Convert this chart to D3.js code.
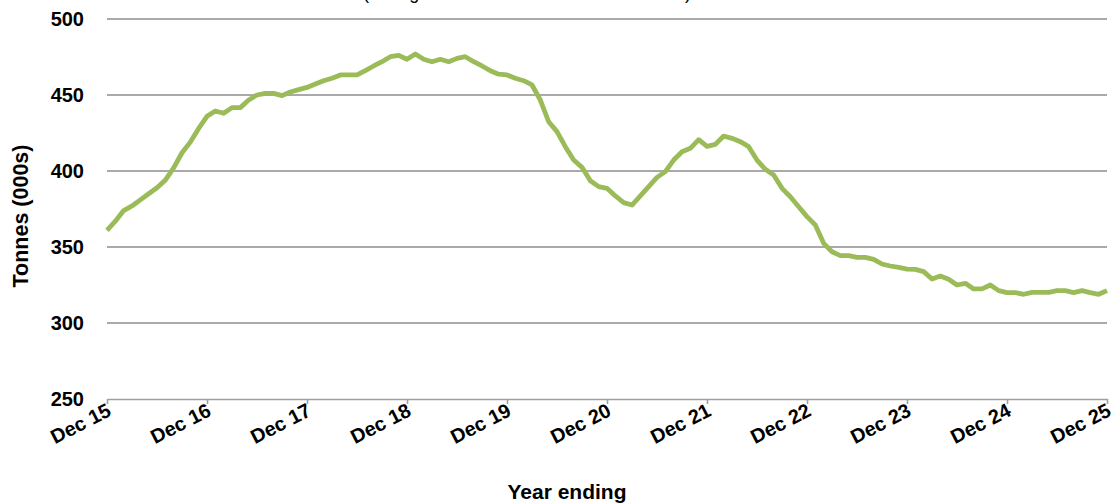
<!DOCTYPE html>
<html>
<head>
<meta charset="utf-8">
<script src="https://cdn.jsdelivr.net/npm/d3@7"></script>
<style>
  html, body { margin: 0; padding: 0; background: #fff; }
  svg { display: block; font-family: "Liberation Sans", Arial, sans-serif; }
</style>
</head>
<body>
<svg id="chart" width="1116" height="504"></svg>
<script>
// Monthly values, Dec 2015 .. Dec 2025 (121 points), thousand tonnes
const values = [
  361, 367, 374, 377, 381, 385, 389, 394, 402, 412, 419, 428,
  436, 439.5, 438, 441.7, 441.7, 446.7, 450, 451.1, 451.1, 449.6, 452, 453.5,
  455, 457.2, 459.4, 461, 463.2, 463.2, 463.2, 466, 469.1, 471.9, 475.2, 476.1,
  473.5, 477, 473.5, 471.9, 473.5, 471.9, 474.1, 475.2, 471.9, 469.1, 466, 463.7,
  463.2, 461, 459.4, 456.6, 446.7, 432.4, 425.9, 416, 407.2, 402.4, 393.6, 389.7,
  388.6, 383.6, 379.2, 377.6, 383.6, 389.7, 395.8, 399.6, 407.2, 412.7, 414.9, 420.6,
  416.2, 417.5, 423, 421.5, 419.3, 416, 407.2, 401.1, 397.4, 388.6, 383.1, 376.5,
  370, 364.5, 352.4, 346.9, 344.3, 344.3, 343.2, 343.2, 341.9, 338.8, 337.5, 336.6,
  335.4, 335.3, 333.8, 328.9, 330.9, 328.8, 325, 326.1, 322.4, 322.4, 325, 321.3,
  320, 320, 318.9, 320.2, 320.2, 320.2, 321.3, 321.3, 320, 321.3, 320, 318.9,
  321.3
];
const yTicks = [250, 300, 350, 400, 450, 500];
const xTickLabels = ["Dec 15","Dec 16","Dec 17","Dec 18","Dec 19","Dec 20","Dec 21","Dec 22","Dec 23","Dec 24","Dec 25"];
const yTitle = "Tonnes (000s)";
const xTitle = "Year ending";
const topTitle = "(rolling annual total in thousand tonnes)";

const svg = d3.select("#chart");
const mLeft = 107, mRight = 1107, mTop = 19, mBottom = 399;

const x = d3.scaleLinear().domain([0, values.length - 1]).range([mLeft, mRight]);
const y = d3.scaleLinear().domain([250, 500]).range([mBottom, mTop]);

// Partially visible title at top (cut off by frame in the original)
svg.append("text")
  .attr("x", 363).attr("y", -1)
  .attr("font-size", 18)
  .attr("textLength", 328).attr("lengthAdjust", "spacing")
  .attr("fill", "#000")
  .text(topTitle);

// Gridlines
svg.append("g").selectAll("line")
  .data(yTicks.filter(d => d > 250))
  .join("line")
  .attr("x1", mLeft).attr("x2", mRight)
  .attr("y1", d => y(d)).attr("y2", d => y(d))
  .attr("stroke", "#8c8c8c").attr("stroke-width", 1.6);

// Y axis labels
const yAxis = d3.axisLeft(y).tickValues(yTicks).tickSize(0).tickPadding(23);
const gy = svg.append("g").attr("transform", `translate(${mLeft},0)`).call(yAxis);
gy.select(".domain").remove();
gy.selectAll("text")
  .attr("font-family", "'Liberation Sans', Arial, sans-serif")
  .attr("font-size", 20).attr("font-weight", "bold").attr("fill", "#000");

// X axis
const xAxis = d3.axisBottom(x)
  .tickValues(d3.range(0, values.length, 12))
  .tickFormat((d, i) => xTickLabels[i])
  .tickSize(5).tickSizeOuter(0);
const gx = svg.append("g").attr("transform", `translate(0,${mBottom})`).call(xAxis);
gx.select(".domain").attr("stroke", "#a0a0a0").attr("stroke-width", 1.6);
gx.selectAll(".tick line").attr("stroke", "#a0a0a0").attr("stroke-width", 1.6);
gx.selectAll("text")
  .attr("font-family", "'Liberation Sans', Arial, sans-serif")
  .attr("font-size", 20).attr("font-weight", "bold").attr("fill", "#000")
  .attr("text-anchor", "end")
  .attr("dy", 0).attr("y", 0)
  .attr("transform", "translate(5,16) rotate(-27)");

// Line
const line = d3.line().x((d, i) => x(i)).y(d => y(d));
svg.append("path")
  .datum(values)
  .attr("d", line)
  .attr("fill", "none")
  .attr("stroke", "#9bbb59")
  .attr("stroke-width", 4.8)
  .attr("stroke-linejoin", "round");

// Axis titles
svg.append("text")
  .attr("x", 567).attr("y", 499)
  .attr("text-anchor", "middle")
  .attr("font-size", 21).attr("font-weight", "bold")
  .text(xTitle);

svg.append("text")
  .attr("transform", "translate(28,216) rotate(-90)")
  .attr("text-anchor", "middle")
  .attr("font-size", 21.5).attr("font-weight", "bold")
  .text(yTitle);
</script>
</body>
</html>
